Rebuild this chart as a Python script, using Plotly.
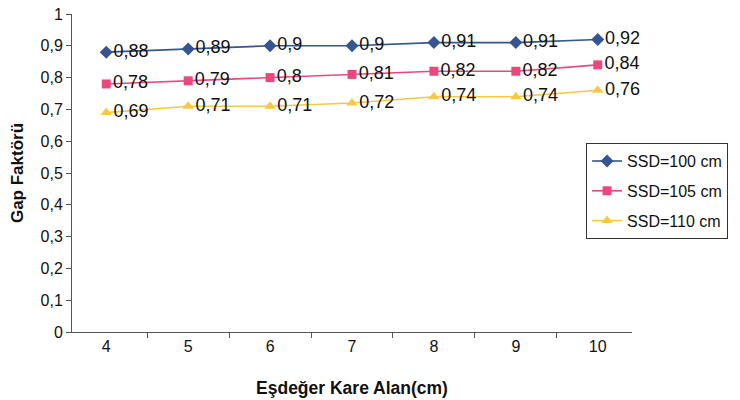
import plotly.graph_objects as go

categories = ["4", "5", "6", "7", "8", "9", "10"]
ssd100 = [0.88, 0.89, 0.90, 0.90, 0.91, 0.91, 0.92]
ssd105 = [0.78, 0.79, 0.80, 0.81, 0.82, 0.82, 0.84]
ssd110 = [0.69, 0.71, 0.71, 0.72, 0.74, 0.74, 0.76]
series_names = ["SSD=100 cm", "SSD=105 cm", "SSD=110 cm"]
y_ticks = [0, 0.1, 0.2, 0.3, 0.4, 0.5, 0.6, 0.7, 0.8, 0.9, 1]

def fmt(v):
    return f"{v:g}".replace(".", ",")

styles = [
    dict(color="#34558F", symbol="diamond", size=10),
    dict(color="#E9487F", symbol="square", size=9),
    dict(color="#F7C843", symbol="triangle-up", size=10),
]

fig = go.Figure()
for i, (name, vals, st) in enumerate(zip(series_names, [ssd100, ssd105, ssd110], styles)):
    fig.add_trace(go.Scatter(
        x=categories, y=vals, name=name, legendgroup=f"g{i}",
        mode="lines+markers+text",
        line=dict(color=st["color"], width=1.6),
        marker=dict(color=st["color"], symbol=st["symbol"], size=st["size"]),
        text=[fmt(v) for v in vals],
        textposition="middle right",
        textfont=dict(family="Arial, Liberation Sans", size=18, color="#111111"),
        cliponaxis=False,
    ))

fig.update_layout(
    width=740, height=400,
    margin=dict(l=72, r=104, t=14, b=68),
    paper_bgcolor="white", plot_bgcolor="white",
    font=dict(family="Arial, Liberation Sans", size=16, color="#111111"),
    showlegend=True,
    legend=dict(
        x=0.918, y=0.594, xanchor="left", yanchor="top",
        bordercolor="#333333", borderwidth=1, bgcolor="white",
        font=dict(size=16), tracegroupgap=6,
    ),
    xaxis=dict(
        type="category", tickson="boundaries", automargin=False,
        showline=True, linecolor="#555555", linewidth=1,
        ticks="outside", ticklen=5, tickcolor="#555555",
        showgrid=False, zeroline=False,
        title=dict(text="<b>Eşdeğer Kare Alan(cm)</b>", font=dict(size=17.5), standoff=27),
    ),
    yaxis=dict(
        range=[0, 1], tickvals=y_ticks, ticktext=[fmt(v) for v in y_ticks],
        automargin=False,
        showline=True, linecolor="#555555", linewidth=1,
        ticks="outside", ticklen=5, tickcolor="#555555",
        showgrid=False, zeroline=False,
        title=dict(text="<b>Gap Faktörü</b>", font=dict(size=17), standoff=12),
    ),
)

fig.write_html("out.html")
